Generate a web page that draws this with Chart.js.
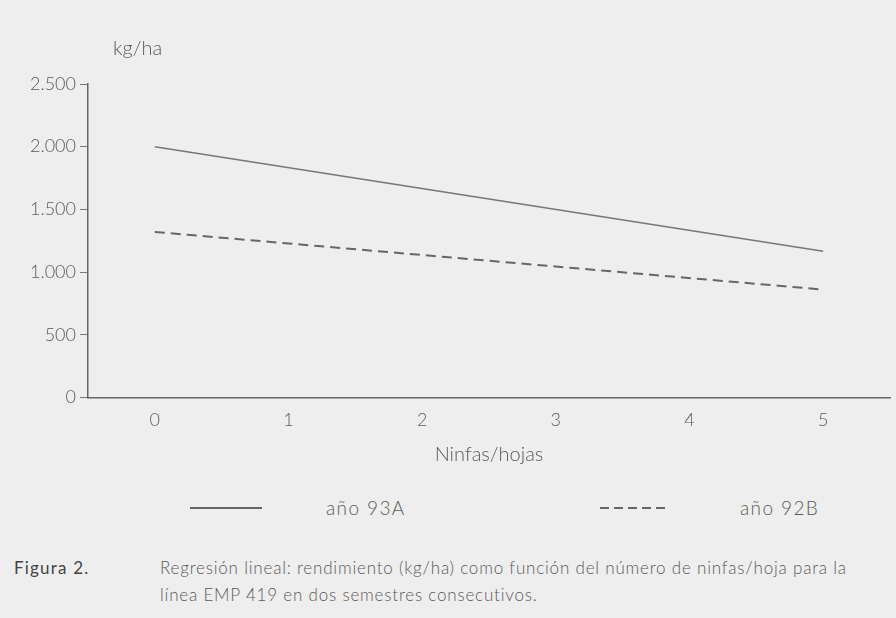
<!DOCTYPE html>
<html>
<head>
<meta charset="utf-8">
<script src="https://cdn.jsdelivr.net/npm/chart.js@4/dist/chart.umd.min.js"></script>
<style>
  html, body { margin: 0; padding: 0; background: #eeeeee; }
  body { width: 896px; height: 618px; position: relative; overflow: hidden; font-family: Lato, "Noto Sans", sans-serif; font-weight: 300; color: #5a5a5a; }
  #wrap { position: absolute; left: 0; top: 0; width: 896px; height: 480px; }
  #ylab { position: absolute; left: 113px; top: 35px; font-size: 20px; }
  .leg { position: absolute; font-size: 19px; letter-spacing: 1.4px; top: 496px; }
  .sample { position: absolute; top: 507px; height: 1.5px; }
  #cap { position: absolute; left: 0; top: 554px; width: 896px; font-size: 17px; letter-spacing: 0.8px; line-height: 27px; }
  #cap .fig { position: absolute; left: 14px; top: 0; color: #444; font-weight: 400; letter-spacing: 1.2px; }
  #cap .txt { position: absolute; left: 160px; top: 0; width: 730px; }
</style>
</head>
<body>
<div id="wrap"><canvas id="c" width="896" height="480"></canvas></div>
<div id="ylab">kg/ha</div>
<div class="sample" style="left:190px;width:72px;background:#666;"></div>
<div class="sample" style="left:600px;width:66px;height:2px;background:repeating-linear-gradient(to right,#666 0 9px,transparent 9px 14px);"></div>
<div class="leg" style="left:326px;">año 93A</div>
<div class="leg" style="left:740px;">año 92B</div>
<div id="cap">
  <span class="fig">Figura 2.</span>
  <span class="txt">Regresión lineal: rendimiento (kg/ha) como función del número de ninfas/hoja para la<br>línea EMP 419 en dos semestres consecutivos.</span>
</div>
<script>
// Ninfas por hoja (eje X) y rendimiento estimado por las rectas de regresión
const ninfas = [0, 5];
const rend93A = [2000, 1165];
const rend92B = [1320, 860];
const xTicks = [0, 1, 2, 3, 4, 5];
const yTicks = [0, 500, 1000, 1500, 2000, 2500];

const fmtMiles = v => v.toString().replace(/\B(?=(\d{3})+(?!\d))/g, '.');
const tickFont = { family: 'Lato', size: 18, weight: 300 };

new Chart(document.getElementById('c'), {
  type: 'line',
  data: {
    datasets: [
      {
        label: 'año 93A',
        data: ninfas.map((x, i) => ({ x, y: rend93A[i] })),
        borderColor: '#777',
        borderWidth: 1.5,
        pointRadius: 0,
        fill: false
      },
      {
        label: 'año 92B',
        data: ninfas.map((x, i) => ({ x, y: rend92B[i] })),
        borderColor: '#666',
        borderWidth: 2,
        borderDash: [10, 6],
        pointRadius: 0,
        fill: false
      }
    ]
  },
  options: {
    responsive: false,
    animation: false,
    layout: { padding: { left: 0, right: 6, top: 84, bottom: 13 } },
    plugins: { legend: { display: false }, tooltip: { enabled: false } },
    scales: {
      x: {
        type: 'linear',
        min: -0.5,
        max: 5.5,
        afterBuildTicks: s => { s.ticks = xTicks.map(v => ({ value: v })); },
        ticks: { color: '#5a5a5a', font: tickFont, padding: 12 },
        grid: { drawOnChartArea: false, drawTicks: false },
        border: { display: true, color: '#666', width: 1.5 },
        title: { display: true, text: 'Ninfas/hojas', color: '#5a5a5a', font: { family: 'Lato', size: 20, weight: 300 }, padding: { top: 0, bottom: 0 } }
      },
      y: {
        min: 0,
        max: 2500,
        afterBuildTicks: s => { s.ticks = yTicks.map(v => ({ value: v })); },
        ticks: { color: '#5a5a5a', font: tickFont, padding: 4, callback: v => fmtMiles(v) },
        grid: { drawOnChartArea: false, drawTicks: true, tickLength: 8, color: '#777' },
        border: { display: true, color: '#666', width: 1.5 },
        afterFit: s => { s.width = 88; }
      }
    }
  }
});
</script>
</body>
</html>
